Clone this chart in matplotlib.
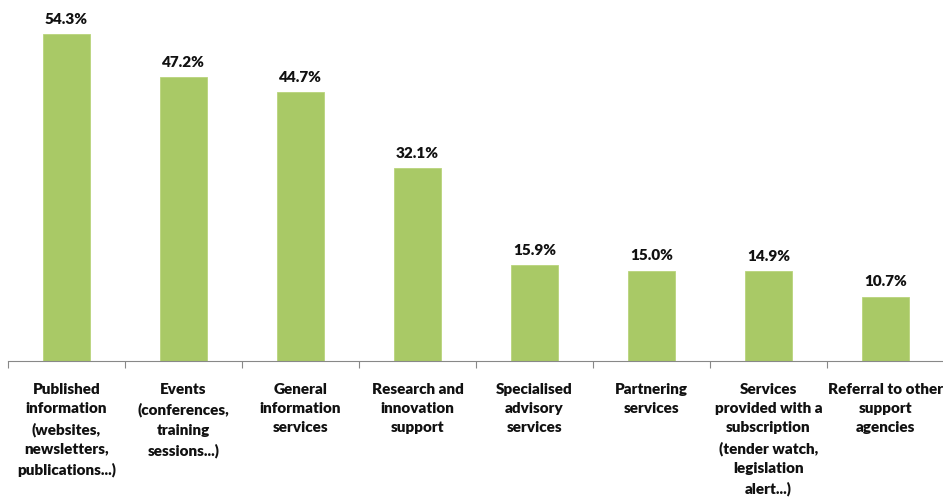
import matplotlib.pyplot as plt

categories = [
    "Published\ninformation\n(websites,\nnewsletters,\npublications...)",
    "Events\n(conferences,\ntraining\nsessions...)",
    "General\ninformation\nservices",
    "Research and\ninnovation\nsupport",
    "Specialised\nadvisory\nservices",
    "Partnering\nservices",
    "Services\nprovided with a\nsubscription\n(tender watch,\nlegislation\nalert...)",
    "Referral to other\nsupport\nagencies",
]
values = [54.3, 47.2, 44.7, 32.1, 15.9, 15.0, 14.9, 10.7]

plt.rcParams["font.family"] = ["Lato", "DejaVu Sans"]

fig = plt.figure(figsize=(9.43, 4.97), dpi=100)
ax = fig.add_axes([8 / 943, 136 / 497, 936 / 943, 361 / 497])

x = list(range(len(values)))
ax.bar(x, values, width=0.4, color="#a9c966", edgecolor="#b9d47c", linewidth=0.6)

for xi, v in zip(x, values):
    ax.annotate(f"{v:.1f}%", (xi, v), xytext=(0, 6), textcoords="offset points",
                ha="center", va="bottom", fontsize=11, fontweight="heavy", color="#111111")

for xi, lab in zip(x, categories):
    ax.text(xi, -3.7, lab, ha="center", va="top", fontsize=11, fontweight="heavy",
            color="#111111", linespacing=1.55)

ax.set_xlim(-0.5, len(values) - 0.5)
ax.set_ylim(0, 60)
ax.set_yticks([])
ax.set_xticks([])
ax.set_xticks([i - 0.5 for i in range(len(values) + 1)], minor=True)
ax.tick_params(axis="x", which="minor", direction="out", length=5, color="#888888", width=0.8)
ax.set_xticklabels([], minor=True)
for side in ["top", "right", "left"]:
    ax.spines[side].set_visible(False)
ax.spines["bottom"].set_color("#888888")
ax.spines["bottom"].set_linewidth(0.8)

fig.savefig("out.png", dpi=100)
